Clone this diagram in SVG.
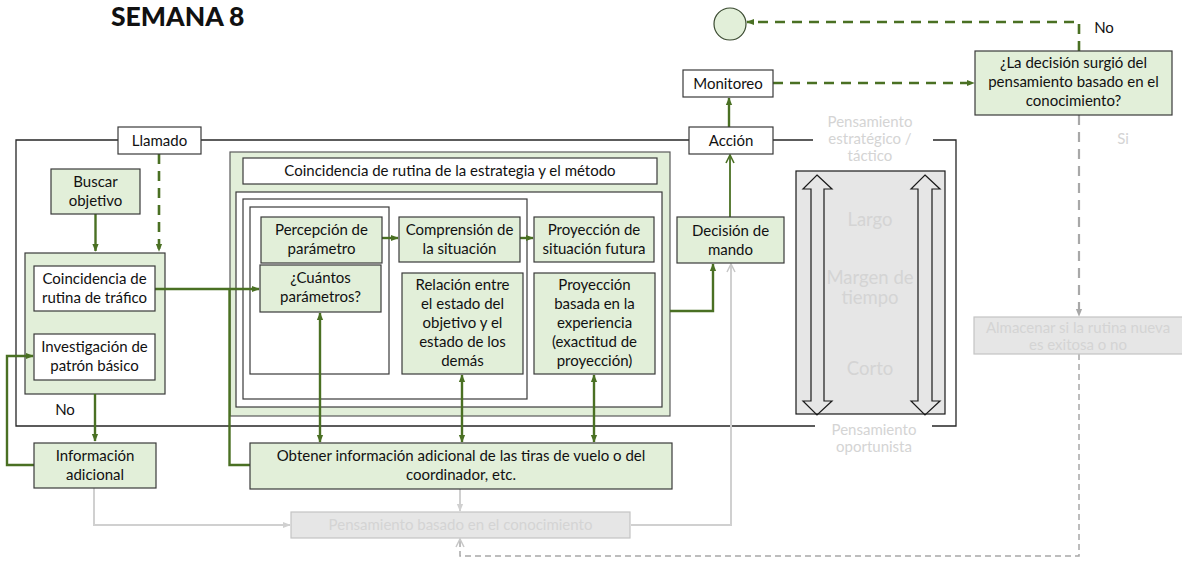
<svg xmlns="http://www.w3.org/2000/svg" width="1182" height="563" viewBox="0 0 1182 563">
  <style>
    .t { font-family: Lato, "Liberation Sans", sans-serif; font-size: 15px; fill: #111; text-anchor: middle; }
    .tg { font-family: Lato, "Liberation Sans", sans-serif; font-size: 15px; fill: #d4d4d4; text-anchor: middle; }
    .big { font-size: 18.5px; }
    .title { font-family: Lato, "Liberation Sans", sans-serif; font-size: 26.5px; font-weight: 900; fill: #111; }
    .gbox { fill: #e2efd9; stroke: #3a3a3a; stroke-width: 1.2; }
    .wbox { fill: #ffffff; stroke: #3a3a3a; stroke-width: 1.2; }
    .grbox { fill: #e6e6e6; stroke: #c4c4c4; stroke-width: 1.2; }
    .frame { fill: none; stroke: #262626; stroke-width: 1.3; }
    .gl { fill: none; stroke: #4a7023; stroke-width: 2.4; }
    .gld { fill: none; stroke: #4a7023; stroke-width: 2.6; stroke-dasharray: 10 7; }
    .gy { fill: none; stroke: #d0d0d0; stroke-width: 2; }
    .gyd { fill: none; stroke: #a8a8a8; stroke-width: 2.2; stroke-dasharray: 10 7; }
    .gyd2 { fill: none; stroke: #a8a8a8; stroke-width: 1.5; stroke-dasharray: 6 4; }
    .dbl { fill: none; stroke: #1a1a1a; stroke-width: 1.2; }
  </style>
  <defs>
    <marker id="ag" viewBox="0 0 10 10" refX="9" refY="5" markerWidth="8" markerHeight="8" orient="auto-start-reverse" markerUnits="userSpaceOnUse">
      <path d="M0,1 L10,5 L0,9 z" fill="#4a7023"/>
    </marker>
    <marker id="agOpen" viewBox="0 0 10 10" refX="9" refY="5" markerWidth="10" markerHeight="10" orient="auto" markerUnits="userSpaceOnUse">
      <path d="M1,1 L9,5 L1,9" fill="none" stroke="#4a7023" stroke-width="1.6"/>
    </marker>
    <marker id="agray" viewBox="0 0 10 10" refX="9" refY="5" markerWidth="8" markerHeight="8" orient="auto" markerUnits="userSpaceOnUse">
      <path d="M0,1 L10,5 L0,9 z" fill="#a8a8a8"/>
    </marker>
    <marker id="agrayL" viewBox="0 0 10 10" refX="9" refY="5" markerWidth="8" markerHeight="8" orient="auto" markerUnits="userSpaceOnUse">
      <path d="M0,1 L10,5 L0,9 z" fill="#d0d0d0"/>
    </marker>
    <marker id="agrayOpen" viewBox="0 0 10 10" refX="9" refY="5" markerWidth="10" markerHeight="10" orient="auto" markerUnits="userSpaceOnUse">
      <path d="M1,1 L9,5 L1,9" fill="none" stroke="#c8c8c8" stroke-width="1.5"/>
    </marker>
  </defs>

  <text class="title" x="111" y="26">SEMANA 8</text>

  <!-- outer frame with gaps for the labels on its edges -->
  <g id="frame">
    <path class="frame" d="M118,140 H16 V426 H815"/>
    <path class="frame" d="M201,140 H689"/>
    <path class="frame" d="M773,140 H813"/>
    <path class="frame" d="M933,140 H956 V426 H932"/>
  </g>

  <g id="grupo-trafico">
    <rect class="gbox" x="25" y="253" width="140" height="141"/>
  </g>

  <g id="grupo-estrategia">
    <rect class="gbox" x="230" y="152" width="440" height="264" style="stroke:#5a5a5a"/>
    <rect class="wbox" x="236" y="192" width="426" height="215"/>
    <rect class="wbox" x="243" y="199" width="284" height="200"/>
    <rect class="wbox" x="250" y="207" width="139" height="167"/>
  </g>

  <g id="connectors">
    <path class="gl" d="M95.5,214 V251" marker-end="url(#ag)"/>
    <path class="gld" d="M159,154 V251" marker-end="url(#ag)"/>
    <path class="gl" d="M155,289 H259" marker-end="url(#ag)"/>
    <path class="gl" d="M250,465 H229.5 V289"/>
    <path class="gl" d="M95,394 V441" marker-end="url(#ag)"/>
    <path class="gl" d="M34,465 H7 V356 H33" marker-end="url(#ag)"/>
    <path class="gl" d="M382,238 H398" marker-end="url(#ag)"/>
    <path class="gl" d="M520,238 H533" marker-end="url(#ag)"/>
    <path class="gl" d="M320,313 V442" marker-start="url(#ag)" marker-end="url(#ag)"/>
    <path class="gl" d="M462,375 V442" marker-start="url(#ag)" marker-end="url(#ag)"/>
    <path class="gl" d="M594,375 V442" marker-start="url(#ag)" marker-end="url(#ag)"/>
    <path class="gl" d="M670,311 H713 V264" marker-end="url(#ag)"/>
    <path class="gl" d="M730,217 V155" style="stroke-width:1.8" marker-end="url(#agOpen)"/>
    <path class="gl" d="M729,127 V98" marker-end="url(#ag)"/>
    <path class="gld" d="M773,83 H974" marker-end="url(#ag)"/>
    <path class="gld" d="M1079,51 V22 H747" marker-end="url(#ag)"/>
    <path class="gyd" d="M1079,115 V316" marker-end="url(#agray)"/>
    <path class="gyd2" d="M1079,354 V556 H460 V539" marker-end="url(#agrayOpen)"/>
    <path class="gy" d="M94,488 V525 H290" marker-end="url(#agrayL)"/>
    <path class="gy" d="M460,489 V511" marker-end="url(#agrayL)"/>
    <path class="gy" d="M631,525 H731 V264" marker-end="url(#agrayOpen)"/>
  </g>

  <g id="llamado">
    <rect class="wbox" x="118" y="127" width="83" height="27"/>
    <text class="t" x="159.5" y="146">Llamado</text>
  </g>

  <g id="accion">
    <rect class="wbox" x="689" y="127" width="84" height="27"/>
    <text class="t" x="731" y="146">Acción</text>
  </g>

  <g id="monitoreo">
    <rect class="wbox" x="683" y="70" width="90" height="27"/>
    <text class="t" x="728" y="89">Monitoreo</text>
  </g>

  <g id="fin">
    <circle cx="730" cy="24" r="16" fill="#e2efd9" stroke="#3a4a30" stroke-width="1.2"/>
  </g>

  <g id="pregunta-decision">
    <rect class="gbox" x="975" y="51" width="197" height="64"/>
    <text class="t" x="1073.5" y="68">¿La decisión surgió del</text>
    <text class="t" x="1073.5" y="87">pensamiento basado en el</text>
    <text class="t" x="1073.5" y="106">conocimiento?</text>
  </g>
  <text class="t" x="1104" y="33">No</text>
  <text class="tg" x="1123" y="144">Si</text>

  <g id="almacenar">
    <rect class="grbox" x="974" y="317" width="210" height="37"/>
    <text class="tg" x="1078" y="333">Almacenar si la rutina nueva</text>
    <text class="tg" x="1078" y="350">es exitosa o no</text>
  </g>

  <g id="buscar-objetivo">
    <rect class="gbox" x="51" y="169" width="89" height="45"/>
    <text class="t" x="95.5" y="187">Buscar</text>
    <text class="t" x="95.5" y="206">objetivo</text>
  </g>

  <g id="coincidencia-trafico">
    <rect class="wbox" x="34" y="266" width="121" height="45"/>
    <text class="t" x="94.5" y="284">Coincidencia de</text>
    <text class="t" x="94.5" y="303">rutina de tráfico</text>
  </g>

  <g id="investigacion">
    <rect class="wbox" x="34" y="334" width="121" height="46"/>
    <text class="t" x="94.5" y="352">Investigación de</text>
    <text class="t" x="94.5" y="371">patrón básico</text>
  </g>
  <text class="t" x="65" y="415">No</text>

  <g id="informacion-adicional">
    <rect class="gbox" x="34" y="443" width="122" height="45"/>
    <text class="t" x="95" y="461">Información</text>
    <text class="t" x="95" y="480">adicional</text>
  </g>

  <g id="coincidencia-estrategia">
    <rect class="wbox" x="243" y="158" width="414" height="26"/>
    <text class="t" x="450" y="176">Coincidencia de rutina de la estrategia y el método</text>
  </g>

  <g id="percepcion">
    <rect class="gbox" x="261" y="217" width="121" height="46"/>
    <text class="t" x="321.5" y="235">Percepción de</text>
    <text class="t" x="321.5" y="254">parámetro</text>
  </g>

  <g id="cuantos">
    <rect class="gbox" x="260" y="265" width="121" height="47"/>
    <text class="t" x="320.5" y="283">¿Cuántos</text>
    <text class="t" x="320.5" y="302">parámetros?</text>
  </g>

  <g id="comprension">
    <rect class="gbox" x="399" y="217" width="121" height="45"/>
    <text class="t" x="459.5" y="235">Comprensión de</text>
    <text class="t" x="459.5" y="254">la situación</text>
  </g>

  <g id="proyeccion-futura">
    <rect class="gbox" x="534" y="217" width="120" height="45"/>
    <text class="t" x="594" y="235">Proyección de</text>
    <text class="t" x="594" y="254">situación futura</text>
  </g>

  <g id="relacion">
    <rect class="gbox" x="402" y="273" width="121" height="101"/>
    <text class="t" x="462.5" y="290">Relación entre</text>
    <text class="t" x="462.5" y="309">el estado del</text>
    <text class="t" x="462.5" y="328">objetivo y el</text>
    <text class="t" x="462.5" y="347">estado de los</text>
    <text class="t" x="462.5" y="366">demás</text>
  </g>

  <g id="proyeccion-experiencia">
    <rect class="gbox" x="534" y="273" width="121" height="101"/>
    <text class="t" x="594.5" y="290">Proyección</text>
    <text class="t" x="594.5" y="309">basada en la</text>
    <text class="t" x="594.5" y="328">experiencia</text>
    <text class="t" x="594.5" y="347">(exactitud de</text>
    <text class="t" x="594.5" y="366">proyección)</text>
  </g>

  <g id="decision-mando">
    <rect class="gbox" x="677" y="217" width="107" height="46"/>
    <text class="t" x="730.5" y="236">Decisión de</text>
    <text class="t" x="730.5" y="255">mando</text>
  </g>

  <g id="obtener-informacion">
    <rect class="gbox" x="250" y="443" width="422" height="46"/>
    <text class="t" x="461" y="461">Obtener información adicional de las tiras de vuelo o del</text>
    <text class="t" x="461" y="480">coordinador, etc.</text>
  </g>

  <g id="pensamiento-conocimiento">
    <rect class="grbox" x="291" y="512" width="339" height="26"/>
    <text class="tg" x="460.5" y="530">Pensamiento basado en el conocimiento</text>
  </g>

  <g id="margen-tiempo">
    <rect x="796" y="171" width="149" height="243" fill="#e6e6e6" stroke="#1a1a1a" stroke-width="1.2"/>
    <path class="dbl" d="M817,175 L832,189 H824 V401 H832 L817,415 L803,401 H811 V189 H803 Z"/>
    <path class="dbl" d="M925,175 L940,189 H932 V401 H940 L925,415 L911,401 H918 V189 H911 Z"/>
    <text class="tg big" x="870" y="226">Largo</text>
    <text class="tg big" x="870" y="284">Margen de</text>
    <text class="tg big" x="870" y="304">tiempo</text>
    <text class="tg big" x="870" y="375">Corto</text>
  </g>

  <g id="etiquetas-pensamiento">
    <text class="tg" x="870" y="127">Pensamiento</text>
    <text class="tg" x="870" y="144">estratégico /</text>
    <text class="tg" x="870" y="161">táctico</text>
    <text class="tg" x="874" y="435">Pensamiento</text>
    <text class="tg" x="874" y="452">oportunista</text>
  </g>
</svg>
